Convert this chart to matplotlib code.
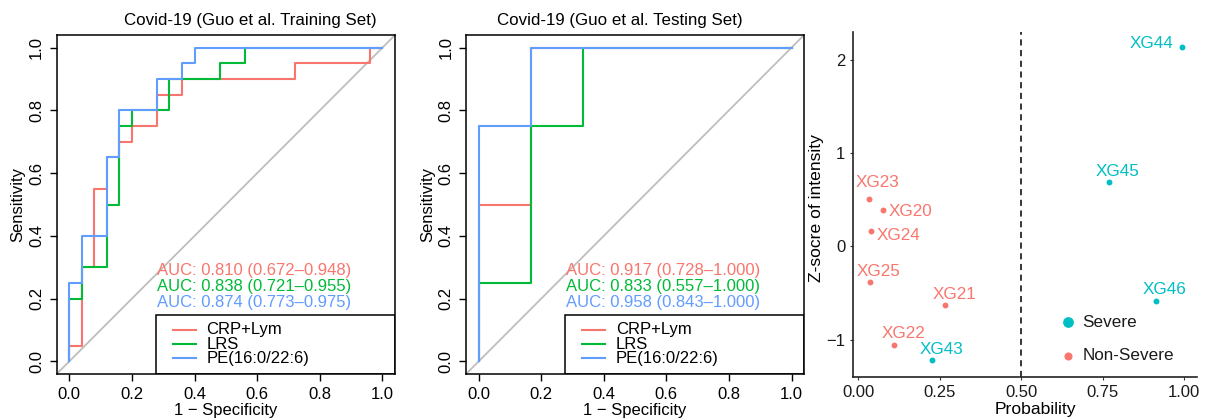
import matplotlib
matplotlib.use("Agg")
import matplotlib.pyplot as plt
from matplotlib.patches import Rectangle

plt.rcParams['font.family'] = ['Liberation Sans', 'DejaVu Sans']

# ROC steps, training set (x = 1 - specificity, y = sensitivity)
train_fpr_crp = [0, 0, 0.04, 0.04, 0.08, 0.08, 0.12, 0.12, 0.16, 0.16, 0.20, 0.20, 0.28, 0.28, 0.36, 0.36, 0.72, 0.72, 0.96, 0.96, 1.0]
train_tpr_crp = [0, 0.05, 0.05, 0.30, 0.30, 0.55, 0.55, 0.65, 0.65, 0.70, 0.70, 0.75, 0.75, 0.85, 0.85, 0.90, 0.90, 0.95, 0.95, 1.0, 1.0]
train_fpr_lrs = [0, 0, 0.04, 0.04, 0.12, 0.12, 0.16, 0.16, 0.20, 0.20, 0.32, 0.32, 0.48, 0.48, 0.56, 0.56, 1.0]
train_tpr_lrs = [0, 0.20, 0.20, 0.30, 0.30, 0.50, 0.50, 0.75, 0.75, 0.80, 0.80, 0.90, 0.90, 0.95, 0.95, 1.0, 1.0]
train_fpr_pe = [0, 0, 0.04, 0.04, 0.12, 0.12, 0.16, 0.16, 0.28, 0.28, 0.36, 0.36, 0.40, 0.40, 1.0]
train_tpr_pe = [0, 0.25, 0.25, 0.40, 0.40, 0.65, 0.65, 0.80, 0.80, 0.90, 0.90, 0.95, 0.95, 1.0, 1.0]

# ROC steps, testing set
test_fpr_crp = [0, 0, 1/6, 1/6, 1.0]
test_tpr_crp = [0, 0.50, 0.50, 1.0, 1.0]
test_fpr_lrs = [0, 0, 1/6, 1/6, 1/3, 1/3, 1.0]
test_tpr_lrs = [0, 0.25, 0.25, 0.75, 0.75, 1.0, 1.0]
test_fpr_pe = [0, 0, 1/6, 1/6, 1.0]
test_tpr_pe = [0, 0.75, 0.75, 1.0, 1.0]

model_names = ['CRP+Lym', 'LRS', 'PE(16:0/22:6)']
train_auc = ['AUC: 0.810 (0.672\u20130.948)', 'AUC: 0.838 (0.721\u20130.955)', 'AUC: 0.874 (0.773\u20130.975)']
test_auc = ['AUC: 0.917 (0.728\u20131.000)', 'AUC: 0.833 (0.557\u20131.000)', 'AUC: 0.958 (0.843\u20131.000)']
roc_colors = ['#F8766D', '#00BA38', '#619CFF']

# scatter panel
samples = ['XG44', 'XG45', 'XG46', 'XG43', 'XG23', 'XG20', 'XG24', 'XG25', 'XG21', 'XG22']
probability = [0.995, 0.769, 0.913, 0.227, 0.032, 0.076, 0.039, 0.035, 0.267, 0.110]
zscore = [2.14, 0.69, -0.58, -1.22, 0.51, 0.39, 0.165, -0.38, -0.625, -1.055]
group = ['Severe'] * 4 + ['Non-Severe'] * 6
# label offsets in points (as placed by ggrepel)
label_off = [(-22, 2.5), (6.5, 7.5), (6.7, 8.2), (6.8, 7.7), (6.5, 11.5), (20, -1.2), (19.7, -3.2), (6.2, 7.4), (6.5, 7.2), (6.7, 7.9)]
grp_colors = {'Severe': '#00BFC4', 'Non-Severe': '#F8766D'}

FS = 12

fig = plt.figure(figsize=(12.08, 4.2), dpi=100)


def roc_panel(rect, title, title_x, curves, auc_txt):
    ax = fig.add_axes(rect)
    ax.plot([-1, 2], [-1, 2], color='#BEBEBE', lw=1.3, zorder=1)
    for (fx, ty), c in zip(curves, roc_colors):
        ax.plot(fx, ty, color=c, lw=1.5, zorder=2)
    ax.set_xlim(-0.04, 1.04)
    ax.set_ylim(-0.04, 1.04)
    ticks = [0, 0.2, 0.4, 0.6, 0.8, 1.0]
    ax.set_xticks(ticks)
    ax.set_yticks(ticks)
    ax.set_xticklabels(['%.1f' % t for t in ticks])
    ax.set_yticklabels(['%.1f' % t for t in ticks], rotation=90, va='center')
    ax.tick_params(direction='out', length=5, width=1.0, labelsize=FS, pad=4)
    for s in ax.spines.values():
        s.set_linewidth(1.1)
    ax.set_xlabel('1 \u2212 Specificity', fontsize=FS)
    ax.set_ylabel('Sensitivity', fontsize=FS)
    ax.xaxis.set_label_coords(0.5, -0.085)
    ax.yaxis.set_label_coords(-0.092, 0.5)
    fig.text(title_x, 0.95, title, ha='center', va='center', fontsize=12.2)
    for i, (t, c) in enumerate(zip(auc_txt, roc_colors)):
        ax.text(0.296, 0.306 - i * 0.047, t, color=c, fontsize=FS,
                transform=ax.transAxes, ha='left', va='center')
    # legend box like base R legend()
    ax.add_patch(Rectangle((0.294, 0.0), 0.706, 0.174, transform=ax.transAxes,
                           fill=False, ec='black', lw=1.1, zorder=3))
    for i, (n, c) in enumerate(zip(model_names, roc_colors)):
        yy = 0.130 - i * 0.042
        ax.plot([0.343, 0.412], [yy, yy], color=c, lw=1.5, transform=ax.transAxes)
        ax.text(0.443, yy, n, fontsize=FS, transform=ax.transAxes, ha='left', va='center')
    return ax


roc_panel([0.0469, 0.1095, 0.2801, 0.8071], 'Covid-19 (Guo et al. Training Set)', 0.207,
          [(train_fpr_crp, train_tpr_crp), (train_fpr_lrs, train_tpr_lrs), (train_fpr_pe, train_tpr_pe)],
          train_auc)
roc_panel([0.3858, 0.1095, 0.2798, 0.8071], 'Covid-19 (Guo et al. Testing Set)', 0.513,
          [(test_fpr_crp, test_tpr_crp), (test_fpr_lrs, test_tpr_lrs), (test_fpr_pe, test_tpr_pe)],
          test_auc)

# probability / z-score scatter
ax3 = fig.add_axes([0.7061, 0.1024, 0.2848, 0.8214])
ax3.axvline(0.5, color='black', ls=(0, (4, 3)), lw=1.1)
for s, p, z, g, off in zip(samples, probability, zscore, group, label_off):
    ax3.scatter(p, z, s=18, color=grp_colors[g], zorder=3, linewidths=0)
    ax3.annotate(s, (p, z), xytext=off, textcoords='offset points', ha='center', va='center',
                 color=grp_colors[g], fontsize=12.3)
ax3.set_xlim(-0.016, 1.04)
ax3.set_ylim(-1.40, 2.30)
ax3.set_xticks([0, 0.25, 0.5, 0.75, 1.0])
ax3.set_xticklabels(['0.00', '0.25', '0.50', '0.75', '1.00'])
ax3.set_yticks([-1, 0, 1, 2])
ax3.tick_params(length=2.5, width=0.8, color='#333333', labelsize=FS, labelcolor='#1a1a1a', pad=3)
for side in ['top', 'right']:
    ax3.spines[side].set_visible(False)
for side in ['left', 'bottom']:
    ax3.spines[side].set_linewidth(1.2)
    ax3.spines[side].set_color('#222222')
ax3.set_xlabel('Probability', fontsize=12.6)
ax3.set_ylabel('Z-socre of intensity', fontsize=12.6)
ax3.xaxis.set_label_coords(0.53, -0.072)
ax3.yaxis.set_label_coords(-0.085, 0.49)

# legend (ggplot style, no frame)
leg_groups = ['Severe', 'Non-Severe']
leg_sizes = [60, 34]
for i, (g, sz) in enumerate(zip(leg_groups, leg_sizes)):
    yy = 0.158 - i * 0.097
    ax3.scatter([0.625], [yy], s=sz, color=grp_colors[g], transform=ax3.transAxes, linewidths=0, clip_on=False)
    ax3.text(0.667, yy, g, transform=ax3.transAxes, ha='left', va='center', fontsize=12.3, color='#1a1a1a')

fig.savefig('out.png', dpi=100)
